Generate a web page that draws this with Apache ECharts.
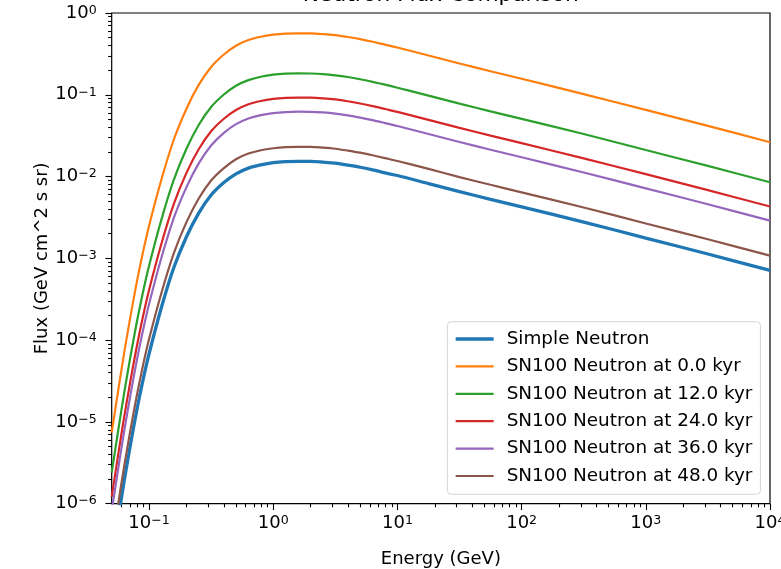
<!DOCTYPE html>
<html>
<head>
<meta charset="utf-8">
<script src="https://cdn.jsdelivr.net/npm/echarts@6/dist/echarts.min.js"></script>
<style>
html,body{margin:0;padding:0;background:#ffffff;}
#chart{width:781px;height:569px;}
</style>
</head>
<body>
<div id="chart"></div>
<script>
// ---- Data ----
const energyGeV = [0.05, 0.0562, 0.0631, 0.0708, 0.0794, 0.0891, 0.1, 0.126, 0.158, 0.2,
  0.251, 0.316, 0.398, 0.501, 0.631, 0.794, 1, 1.26, 1.58, 2,
  2.51, 3.16, 3.98, 5.01, 6.31, 7.94, 10, 17.8, 31.6, 56.2,
  100, 316, 1000, 3160, 10000];

const simpleNeutron = [2.01e-7, 6.37e-7, 1.92e-6, 5.30e-6, 1.36e-5, 3.19e-5, 6.82e-5, 2.54e-4, 7.66e-4, 1.84e-3,
  3.58e-3, 5.94e-3, 8.40e-3, 1.08e-2, 1.27e-2, 1.39e-2, 1.48e-2, 1.52e-2, 1.53e-2, 1.53e-2,
  1.50e-2, 1.46e-2, 1.38e-2, 1.30e-2, 1.21e-2, 1.11e-2, 1.03e-2, 8.20e-3, 6.55e-3, 5.26e-3,
  4.26e-3, 2.78e-3, 1.77e-3, 1.13e-3, 7.14e-4];

const sn100At0kyr = [7.41e-6, 2.34e-5, 7.08e-5, 1.95e-4, 5.01e-4, 1.17e-3, 2.51e-3, 9.33e-3, 2.82e-2, 6.76e-2,
  0.132, 0.219, 0.309, 0.398, 0.468, 0.513, 0.543, 0.560, 0.565, 0.564,
  0.553, 0.536, 0.509, 0.479, 0.445, 0.410, 0.378, 0.302, 0.241, 0.194,
  0.157, 0.102, 0.0653, 0.0417, 0.0263];

const sn100At12kyr = [2.40e-6, 7.59e-6, 2.29e-5, 6.31e-5, 1.62e-4, 3.80e-4, 8.13e-4, 3.02e-3, 9.12e-3, 2.19e-2,
  4.27e-2, 7.08e-2, 0.100, 0.129, 0.151, 0.166, 0.176, 0.181, 0.183, 0.182,
  0.179, 0.173, 0.165, 0.155, 0.144, 0.133, 0.122, 0.0977, 0.0780, 0.0627,
  0.0507, 0.0331, 0.0211, 0.0135, 0.00851];

const sn100At24kyr = [1.21e-6, 3.84e-6, 1.16e-5, 3.19e-5, 8.20e-5, 1.92e-4, 4.11e-4, 1.53e-3, 4.61e-3, 1.11e-2,
  2.16e-2, 3.58e-2, 5.06e-2, 6.52e-2, 7.66e-2, 8.40e-2, 8.89e-2, 9.16e-2, 9.25e-2, 9.23e-2,
  9.06e-2, 8.77e-2, 8.34e-2, 7.83e-2, 7.28e-2, 6.71e-2, 6.18e-2, 4.94e-2, 3.94e-2, 3.17e-2,
  2.56e-2, 1.67e-2, 1.07e-2, 6.82e-3, 4.31e-3];

const sn100At36kyr = [8.15e-7, 2.58e-6, 7.78e-6, 2.14e-5, 5.51e-5, 1.29e-4, 2.76e-4, 1.03e-3, 3.10e-3, 7.43e-3,
  1.45e-2, 2.40e-2, 3.40e-2, 4.38e-2, 5.14e-2, 5.64e-2, 5.97e-2, 6.15e-2, 6.21e-2, 6.19e-2,
  6.08e-2, 5.89e-2, 5.60e-2, 5.26e-2, 4.89e-2, 4.51e-2, 4.15e-2, 3.32e-2, 2.65e-2, 2.13e-2,
  1.72e-2, 1.12e-2, 7.18e-3, 4.58e-3, 2.89e-3];

const sn100At48kyr = [3.03e-7, 9.59e-7, 2.90e-6, 7.98e-6, 2.05e-5, 4.81e-5, 1.03e-4, 3.82e-4, 1.15e-3, 2.77e-3,
  5.40e-3, 8.95e-3, 1.26e-2, 1.63e-2, 1.91e-2, 2.10e-2, 2.22e-2, 2.29e-2, 2.31e-2, 2.31e-2,
  2.26e-2, 2.19e-2, 2.08e-2, 1.96e-2, 1.82e-2, 1.68e-2, 1.55e-2, 1.24e-2, 9.86e-3, 7.93e-3,
  6.41e-3, 4.19e-3, 2.67e-3, 1.71e-3, 1.08e-3];

const seriesNames = ['Simple Neutron', 'SN100 Neutron at 0.0 kyr', 'SN100 Neutron at 12.0 kyr',
  'SN100 Neutron at 24.0 kyr', 'SN100 Neutron at 36.0 kyr', 'SN100 Neutron at 48.0 kyr'];
const seriesValues = [simpleNeutron, sn100At0kyr, sn100At12kyr, sn100At24kyr, sn100At36kyr, sn100At48kyr];
const seriesColors = ['#1f77b4', '#ff7f0e', '#2ca02c', '#d62728', '#9467bd', '#8c564b'];
const seriesWidths = [3.3, 2.2, 2.2, 2.2, 2.2, 2.2];

const xTickExponents = [-1, 0, 1, 2, 3, 4];
const yTickExponents = [-6, -5, -4, -3, -2, -1, 0];
const xRange = [0.05, 10000];
const yRange = [1e-6, 1];

const titleText = 'Neutron Flux Comparison';
const xAxisTitle = 'Energy (GeV)';
const yAxisTitle = 'Flux (GeV cm^2 s sr)';

// ---- Tick helpers (decoration only) ----
function minorLogPositions(lo, hi) {
  const out = [];
  for (let d = Math.floor(Math.log10(lo)); d < Math.ceil(Math.log10(hi)); d++) {
    for (let k = 2; k <= 9; k++) {
      const v = k * Math.pow(10, d);
      if (v > lo * 1.0001 && v < hi * 0.9999) out.push(Math.log10(v));
    }
  }
  return out;
}
const FONT = 'DejaVu Sans';
function expLabel(v) {
  const e = Math.round(v);
  return '{b|10}{s|' + (e < 0 ? '\u2212' + (-e) : String(e)) + '}';
}
const richLabel = {
  b: { fontSize: 18, fontFamily: FONT, color: '#000', lineHeight: 18, verticalAlign: 'bottom' },
  s: { fontSize: 12.6, fontFamily: FONT, color: '#000', lineHeight: 13, padding: [0, 0, 10, 0], verticalAlign: 'top' }
};
const tickLine = { color: '#000', width: 1.1 };

const lx0 = Math.log10(xRange[0]), lx1 = Math.log10(xRange[1]);
const ly0 = Math.log10(yRange[0]), ly1 = Math.log10(yRange[1]);

const GRID = { left: 111.7, top: 13, width: 658.3, height: 490.7 };

const chart = echarts.init(document.getElementById('chart'), null, { renderer: 'canvas' });

const option = {
  animation: false,
  backgroundColor: '#ffffff',
  textStyle: { fontFamily: FONT },
  graphic: [
    {
      type: 'text', x: GRID.left + GRID.width / 2, y: -4.6, silent: true,
      style: { text: titleText, fill: '#000', font: '21.7px "DejaVu Sans"', align: 'center', verticalAlign: 'middle' }
    },
    {
      type: 'text', x: GRID.left + GRID.width / 2, y: 559, silent: true,
      style: { text: xAxisTitle, fill: '#000', font: '18px "DejaVu Sans"', align: 'center', verticalAlign: 'middle' }
    },
    {
      type: 'text', x: 42.5, y: GRID.top + GRID.height / 2, rotation: Math.PI / 2, silent: true,
      style: { text: yAxisTitle, fill: '#000', font: '18px "DejaVu Sans"', align: 'center', verticalAlign: 'middle' }
    }
  ],
  grid: {
    left: GRID.left, top: GRID.top, width: GRID.width, height: GRID.height,
    containLabel: false, outerBoundsMode: 'none',
    show: true, borderColor: '#000', borderWidth: 1.2, backgroundColor: 'transparent'
  },
  legend: {
    orient: 'vertical',
    left: 447.3, top: 321.7,
    padding: [8.3, 8, 9.3, 6.7],
    itemGap: 9.4,
    itemWidth: 38, itemHeight: 18,
    selectedMode: false,
    backgroundColor: 'rgba(255,255,255,0.8)',
    borderColor: '#d4d4d4', borderWidth: 1, borderRadius: 4,
    itemStyle: { opacity: 0, borderWidth: 0 },
    textStyle: { fontSize: 18.4, fontFamily: FONT, color: '#000', padding: [0, 0, 0, 8] },
    data: seriesNames.map((n, i) => ({
      name: n,
      itemStyle: { opacity: 0, borderWidth: 0 },
      lineStyle: { color: seriesColors[i], width: seriesWidths[i] }
    }))
  },
  xAxis: [
    { type: 'log', logBase: 10, min: xRange[0], max: xRange[1], show: false },
    {
      type: 'value', min: lx0, max: lx1, position: 'bottom',
      axisLine: { show: false, onZero: false },
      splitLine: { show: false },
      axisTick: { show: true, length: 6.3, lineStyle: tickLine, customValues: xTickExponents },
      axisLabel: { show: true, margin: 11, hideOverlap: false, customValues: xTickExponents, formatter: expLabel, rich: richLabel }
    },
    {
      type: 'value', min: lx0, max: lx1, position: 'bottom',
      axisLine: { show: false, onZero: false },
      splitLine: { show: false },
      axisTick: { show: true, length: 3.6, lineStyle: tickLine, customValues: minorLogPositions(xRange[0], xRange[1]) },
      axisLabel: { show: false }
    }
  ],
  yAxis: [
    { type: 'log', logBase: 10, min: yRange[0], max: yRange[1], show: false },
    {
      type: 'value', min: ly0, max: ly1, position: 'left',
      axisLine: { show: false, onZero: false },
      splitLine: { show: false },
      axisTick: { show: true, length: 6.3, lineStyle: tickLine, customValues: yTickExponents },
      axisLabel: { show: true, margin: 15, hideOverlap: false, customValues: yTickExponents, formatter: expLabel, rich: richLabel }
    },
    {
      type: 'value', min: ly0, max: ly1, position: 'left',
      axisLine: { show: false, onZero: false },
      splitLine: { show: false },
      axisTick: { show: true, length: 3.6, lineStyle: tickLine, customValues: minorLogPositions(yRange[0], yRange[1]) },
      axisLabel: { show: false }
    }
  ],
  series: seriesNames.map((name, i) => ({
    name: name,
    type: 'line',
    xAxisIndex: 0,
    yAxisIndex: 0,
    data: energyGeV.map((e, j) => [e, seriesValues[i][j]]),
    symbol: 'none',
    smooth: 0.3,
    clip: true,
    color: seriesColors[i],
    lineStyle: { color: seriesColors[i], width: seriesWidths[i] },
    z: 2 + i
  }))
};
chart.setOption(option);
</script>
</body>
</html>
